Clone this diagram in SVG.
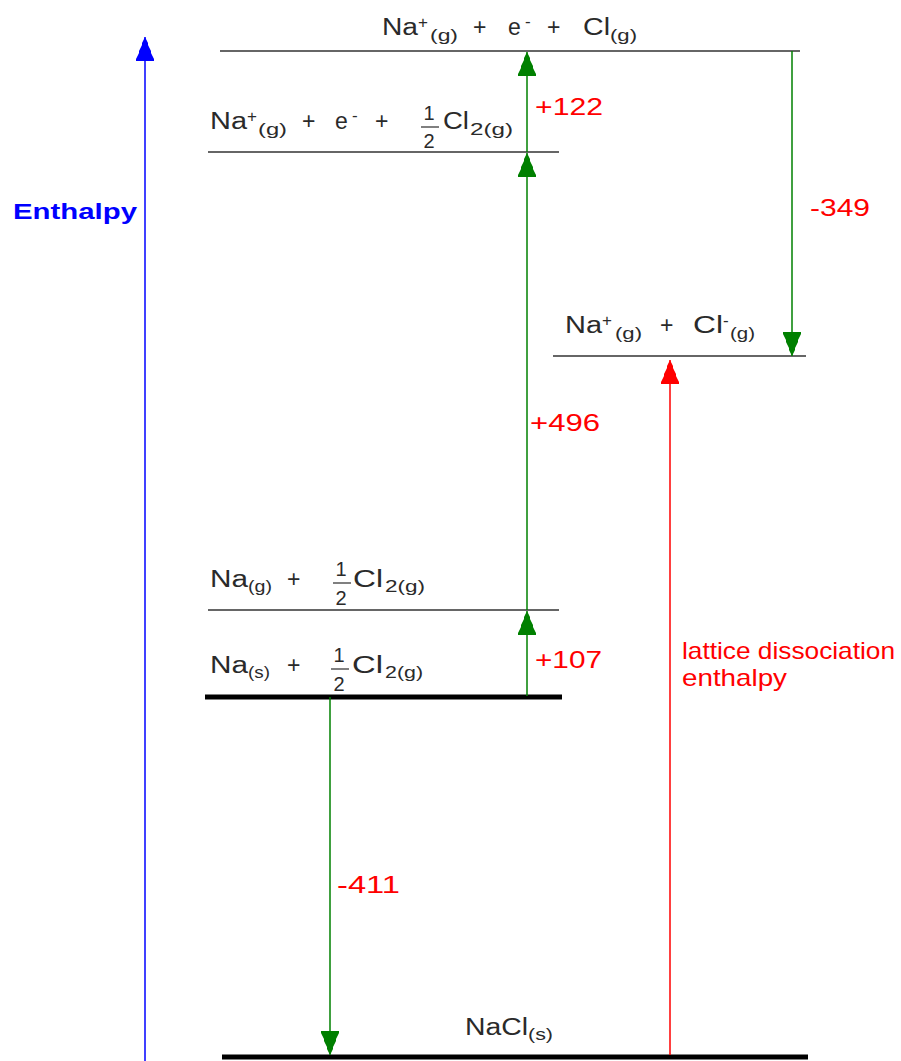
<svg xmlns="http://www.w3.org/2000/svg" width="901" height="1061" viewBox="0 0 901 1061">
<style>
.lvl{stroke:#333;stroke-width:1.5}
.thick{stroke:#000;stroke-width:5}
.g{stroke:#008000;stroke-width:1.5}
.t{font-family:"Liberation Sans",Arial,sans-serif;font-size:23px;fill:#2a2a2a}
.s{font-size:17px}
.f{font-family:"Liberation Sans",Arial,sans-serif;font-size:20px;fill:#2a2a2a;text-anchor:middle}
.r{font-family:"Liberation Sans",Arial,sans-serif;font-size:24px;fill:#ff0000}
.bar{stroke:#2a2a2a;stroke-width:1.2}
</style>
<defs>
<marker id="ag" markerUnits="userSpaceOnUse" viewBox="0 -10 25 20" refX="24" refY="0" markerWidth="25" markerHeight="20" orient="auto">
<path d="M24,0 L18,-3 L16,-3 L10,-6 L8,-6 L2,-9 L0,-9 L0,9 L2,9 L8,6 L10,6 L16,3 L18,3 Z" fill="#008000"/>
</marker>
<marker id="ar" markerUnits="userSpaceOnUse" viewBox="0 -10 25 20" refX="24" refY="0" markerWidth="25" markerHeight="20" orient="auto">
<path d="M24,0 L18,-3 L16,-3 L10,-6 L8,-6 L2,-9 L0,-9 L0,9 L2,9 L8,6 L10,6 L16,3 L18,3 Z" fill="#ff0000"/>
</marker>
<marker id="ab" markerUnits="userSpaceOnUse" viewBox="0 -10 25 20" refX="24" refY="0" markerWidth="25" markerHeight="20" orient="auto">
<path d="M24,0 L18,-3 L16,-3 L10,-6 L8,-6 L2,-9 L0,-9 L0,9 L2,9 L8,6 L10,6 L16,3 L18,3 Z" fill="#0000ff"/>
</marker>
</defs>

<g id="axis">
<line x1="145" y1="1061" x2="145" y2="37" stroke="#0000ff" stroke-width="1.5" marker-end="url(#ab)"/>
<text x="13" y="219" font-family="Liberation Sans,Arial,sans-serif" font-size="22" font-weight="bold" fill="#0000ff" textLength="124" lengthAdjust="spacingAndGlyphs">Enthalpy</text>
</g>

<g id="level-top">
<line class="lvl" x1="220" y1="51" x2="800" y2="51"/>
<text class="t"><tspan x="382" y="35" textLength="36" lengthAdjust="spacingAndGlyphs">Na</tspan><tspan class="s" x="418" y="28">+</tspan><tspan class="s" x="430" y="41" textLength="28" lengthAdjust="spacingAndGlyphs">(g)</tspan><tspan x="473" y="35">+</tspan><tspan x="508" y="35">e</tspan><tspan class="s" x="525" y="27">-</tspan><tspan x="547" y="35">+</tspan><tspan x="583" y="35" textLength="27" lengthAdjust="spacingAndGlyphs">Cl</tspan><tspan class="s" x="610" y="41" textLength="27" lengthAdjust="spacingAndGlyphs">(g)</tspan></text>
</g>

<g id="level-cl2">
<line class="lvl" x1="208" y1="152" x2="559" y2="152"/>
<text class="t"><tspan x="210" y="129" textLength="37" lengthAdjust="spacingAndGlyphs">Na</tspan><tspan class="s" x="247" y="122">+</tspan><tspan class="s" x="258" y="135" textLength="29" lengthAdjust="spacingAndGlyphs">(g)</tspan><tspan x="302" y="129">+</tspan><tspan x="335" y="129">e</tspan><tspan class="s" x="352" y="121">-</tspan><tspan x="375" y="129">+</tspan><tspan x="443" y="129" textLength="26" lengthAdjust="spacingAndGlyphs">Cl</tspan><tspan class="s" x="470" y="135" textLength="43" lengthAdjust="spacingAndGlyphs">2(g)</tspan></text>
<text class="f" x="429" y="120">1</text>
<text class="f" x="429" y="148">2</text>
<line class="bar" x1="421" y1="127" x2="439" y2="127"/>
</g>

<g id="level-ions">
<line class="lvl" x1="553" y1="356" x2="806" y2="356"/>
<text class="t"><tspan x="565" y="333" textLength="37" lengthAdjust="spacingAndGlyphs">Na</tspan><tspan class="s" x="602" y="326">+</tspan><tspan class="s" x="615" y="339" textLength="27" lengthAdjust="spacingAndGlyphs">(g)</tspan><tspan x="660" y="333">+</tspan><tspan x="693" y="333" textLength="30" lengthAdjust="spacingAndGlyphs">Cl</tspan><tspan class="s" x="723" y="326">-</tspan><tspan class="s" x="730" y="339" textLength="25" lengthAdjust="spacingAndGlyphs">(g)</tspan></text>
</g>

<g id="level-nag">
<line class="lvl" x1="208" y1="610" x2="559" y2="610"/>
<text class="t"><tspan x="210" y="587" textLength="38" lengthAdjust="spacingAndGlyphs">Na</tspan><tspan class="s" x="248" y="592" textLength="24" lengthAdjust="spacingAndGlyphs">(g)</tspan><tspan x="287" y="587">+</tspan><tspan x="353" y="587" textLength="30" lengthAdjust="spacingAndGlyphs">Cl</tspan><tspan class="s" x="385" y="592" textLength="40" lengthAdjust="spacingAndGlyphs">2(g)</tspan></text>
<text class="f" x="341" y="576">1</text>
<text class="f" x="341" y="605">2</text>
<line class="bar" x1="333" y1="583" x2="351" y2="583"/>
</g>

<g id="level-nas">
<line class="thick" x1="205" y1="697" x2="562" y2="697"/>
<text class="t"><tspan x="210" y="673" textLength="38" lengthAdjust="spacingAndGlyphs">Na</tspan><tspan class="s" x="248" y="678" textLength="22" lengthAdjust="spacingAndGlyphs">(s)</tspan><tspan x="287" y="673">+</tspan><tspan x="352" y="673" textLength="31" lengthAdjust="spacingAndGlyphs">Cl</tspan><tspan class="s" x="385" y="678" textLength="38" lengthAdjust="spacingAndGlyphs">2(g)</tspan></text>
<text class="f" x="339" y="662">1</text>
<text class="f" x="339" y="691">2</text>
<line class="bar" x1="331" y1="669" x2="349" y2="669"/>
</g>

<g id="level-nacl">
<line class="thick" x1="222" y1="1057" x2="808" y2="1057"/>
<text class="t"><tspan x="465" y="1035" textLength="63" lengthAdjust="spacingAndGlyphs">NaCl</tspan><tspan class="s" x="528" y="1040" textLength="25" lengthAdjust="spacingAndGlyphs">(s)</tspan></text>
</g>

<g id="connectors">
<line class="g" x1="527" y1="696" x2="527" y2="611" marker-end="url(#ag)"/>
<line class="g" x1="527" y1="610" x2="527" y2="153" marker-end="url(#ag)"/>
<line class="g" x1="527" y1="152" x2="527" y2="52" marker-end="url(#ag)"/>
<line class="g" x1="792" y1="51" x2="792" y2="356" marker-end="url(#ag)"/>
<line class="g" x1="330" y1="697" x2="330" y2="1055" marker-end="url(#ag)"/>
<line x1="670" y1="1055" x2="670" y2="360" stroke="#ff0000" stroke-width="1.5" marker-end="url(#ar)"/>
</g>

<g id="labels">
<text class="r" x="535" y="115" textLength="68" lengthAdjust="spacingAndGlyphs">+122</text>
<text class="r" x="810" y="216" textLength="60" lengthAdjust="spacingAndGlyphs">-349</text>
<text class="r" x="530" y="431" textLength="70" lengthAdjust="spacingAndGlyphs">+496</text>
<text class="r" x="535" y="668" textLength="67" lengthAdjust="spacingAndGlyphs">+107</text>
<text class="r" x="337" y="893" textLength="63" lengthAdjust="spacingAndGlyphs">-411</text>
<text class="r" x="682" y="659" font-size="22" textLength="213" lengthAdjust="spacingAndGlyphs">lattice dissociation</text>
<text class="r" x="682" y="686" font-size="22" textLength="105" lengthAdjust="spacingAndGlyphs">enthalpy</text>
</g>
</svg>
